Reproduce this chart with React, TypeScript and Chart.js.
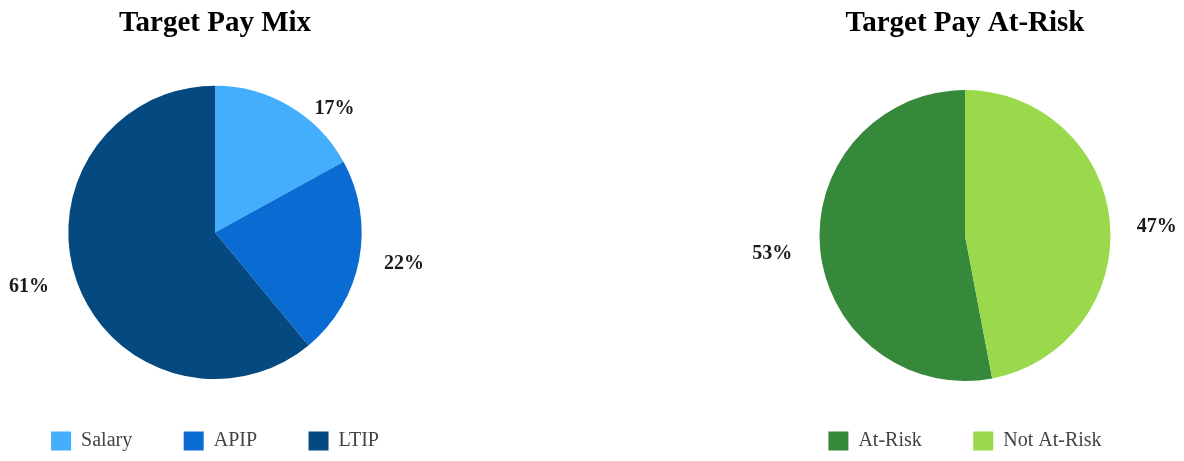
import React, { useEffect, useRef } from "react";
import { Chart, registerables } from "chart.js";

Chart.register(...registerables);

// ---- Data ----
const mixTitle = "Target Pay Mix";
const mixLabels = ["Salary", "APIP", "LTIP"];
const mixValues = [17, 22, 61];
const mixColors = ["#42aefc", "#0a6bd2", "#04497f"];

const riskTitle = "Target Pay At-Risk";
const riskLabels = ["At-Risk", "Not At-Risk"];
const riskValues = [53, 47];
const riskColors = ["#36893b", "#9ad94b"];

const FAMILY = "'Liberation Serif', 'Times New Roman', serif";

const pctLabelPlugin = {
  id: "pctLabels",
  afterDatasetsDraw(chart: any, _args: any, opts: any) {
    const meta = chart.getDatasetMeta(0);
    const ds = chart.data.datasets[0];
    const ctx = chart.ctx;
    ctx.save();
    ctx.font = opts.font;
    ctx.fillStyle = opts.color;
    ctx.textAlign = "center";
    ctx.textBaseline = "middle";
    meta.data.forEach((arc: any, i: number) => {
      const p = arc.getProps(["x", "y", "startAngle", "endAngle", "outerRadius"], true);
      const n = (opts.nudges && opts.nudges[i]) || { angle: 0, dist: 1.3 };
      const a = (p.startAngle + p.endAngle) / 2 + (n.angle * Math.PI) / 180;
      const r = p.outerRadius * n.dist;
      ctx.fillText(ds.data[i] + "%", p.x + Math.cos(a) * r, p.y + Math.sin(a) * r + 1.5);
    });
    ctx.restore();
  },
};

type PieProps = {
  title: string;
  labels: string[];
  values: number[];
  colors: string[];
  rotation: number;
  radius: number;
  titleBottom: number;
  nudges: { angle: number; dist: number }[];
  left: number;
  width: number;
};

function PieChart(props: PieProps) {
  const ref = useRef<HTMLCanvasElement>(null);
  useEffect(() => {
    const chart = new Chart(ref.current as HTMLCanvasElement, {
      type: "pie",
      data: {
        labels: props.labels,
        datasets: [
          {
            data: props.values,
            backgroundColor: props.colors,
            borderWidth: 0,
          },
        ],
      },
      options: {
        responsive: false,
        animation: false,
        rotation: props.rotation,
        radius: props.radius,
        layout: { padding: 0 },
        plugins: {
          title: {
            display: true,
            text: props.title,
            color: "#000",
            font: { family: FAMILY, size: 29, weight: "bold" },
            padding: { top: 6, bottom: props.titleBottom },
          },
          legend: {
            position: "bottom",
            labels: {
              boxWidth: 20,
              boxHeight: 19,
              padding: 51.5,
              color: "#444",
              font: { family: FAMILY, size: 20 },
            },
          },
          tooltip: { enabled: false },
          pctLabels: {
            font: "bold 20px " + FAMILY,
            color: "#1a1a1a",
            nudges: props.nudges,
          },
        } as any,
      } as any,
      plugins: [pctLabelPlugin],
    });
    return () => chart.destroy();
  }, []);
  return (
    <canvas
      ref={ref}
      width={props.width}
      height={461}
      style={{ position: "absolute", left: props.left, top: 0, width: props.width, height: 461 }}
    />
  );
}

export default function App() {
  const riskTotal = riskValues.reduce((a, b) => a + b, 0);
  const riskRotation = (riskValues[1] / riskTotal) * 360;
  return (
    <div
      style={{
        position: "fixed",
        left: 0,
        top: 0,
        width: 1184,
        height: 461,
        overflow: "hidden",
        background: "#fff",
      }}
    >
      <PieChart
        title={mixTitle}
        labels={mixLabels}
        values={mixValues}
        colors={mixColors}
        rotation={0}
        radius={146.7}
        titleBottom={44.5}
        nudges={[
          { angle: 13, dist: 1.18 },
          { angle: -1.75, dist: 1.305 },
          { angle: 4, dist: 1.318 },
        ]}
        left={-25.5}
        width={480}
      />
      <PieChart
        title={riskTitle}
        labels={riskLabels}
        values={riskValues}
        colors={riskColors}
        rotation={riskRotation}
        radius={145.5}
        titleBottom={50.7}
        nudges={[
          { angle: 0.4, dist: 1.33 },
          { angle: 2.3, dist: 1.32 },
        ]}
        left={750}
        width={430}
      />
    </div>
  );
}
